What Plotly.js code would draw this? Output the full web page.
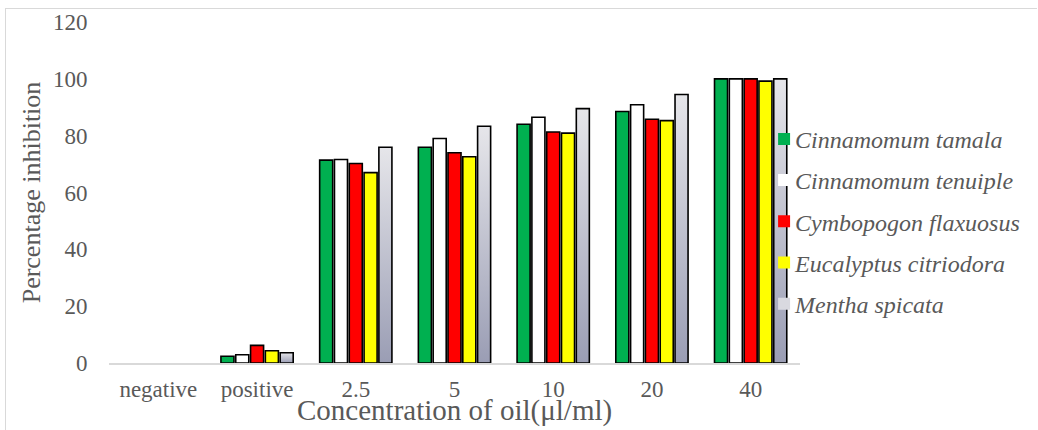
<!DOCTYPE html>
<html>
<head>
<meta charset="utf-8">
<script src="https://cdn.plot.ly/plotly-3.0.1.min.js"></script>
<style>
  html, body { margin: 0; padding: 0; background: #fff; }
  #wrap { position: relative; width: 1038px; height: 430px; }
  #frame { position: absolute; left: 5px; top: 8px; right: 1px; bottom: -2px;
           border-top: 1.5px solid #d9d9d9; border-left: 1.5px solid #d9d9d9; }
  #chart { position: absolute; left: 0; top: 0; width: 1038px; height: 430px; }
</style>
</head>
<body>
<svg width="0" height="0" style="position:absolute">
  <defs>
    <linearGradient id="grayGrad" x1="0" y1="0" x2="0" y2="1">
      <stop offset="0%" stop-color="#e6e6ea"/>
      <stop offset="100%" stop-color="#9a9db4"/>
    </linearGradient>
  </defs>
</svg>
<div id="wrap">
  <div id="frame"></div>
  <div id="chart"></div>
</div>
<script>
const categories = ["negative", "positive", "2.5", "5", "10", "20", "40"];
const seriesNames = ["Cinnamomum tamala", "Cinnamomum tenuiple", "Cymbopogon flaxuosus", "Eucalyptus citriodora", "Mentha spicata"];
const cinnamomumTamala   = [0, 2.4, 71.4, 75.9, 84.0, 88.5, 100];
const cinnamomumTenuiple = [0, 2.9, 71.6, 79.0, 86.5, 90.9, 100];
const cymbopogonFlaxuosus = [0, 6.2, 70.2, 74.0, 81.3, 85.8, 100];
const eucalyptusCitriodora = [0, 4.3, 67.0, 72.6, 80.9, 85.3, 99.2];
const menthaSpicata      = [0, 3.6, 75.9, 83.3, 89.5, 94.5, 100];
const yTicks = [0, 20, 40, 60, 80, 100, 120];
const xTitle = "Concentration of oil(μl/ml)";
const yTitle = "Percentage inhibition";

const seriesValues = [cinnamomumTamala, cinnamomumTenuiple, cymbopogonFlaxuosus, eucalyptusCitriodora, menthaSpicata];
const colors = ["#00b050", "#ffffff", "#ff0000", "#ffff00", "#d9d9e0"];

const traces = seriesNames.map((name, i) => ({
  type: "bar",
  name: name,
  x: categories,
  y: seriesValues[i],
  legendgroup: "g" + i,
  marker: {
    color: colors[i],
    line: { color: "#000000", width: seriesValues[i].map(v => v === 0 ? 0 : 1.6) }
  },
  hoverinfo: "x+y+name"
}));

const font = "Liberation Serif, Times New Roman, serif";
const layout = {
  width: 1038, height: 430,
  margin: { l: 109, r: 238, t: 22, b: 67 },
  paper_bgcolor: "rgba(0,0,0,0)",
  plot_bgcolor: "rgba(0,0,0,0)",
  barmode: "group",
  bargap: 0.25,
  bargroupgap: 0.12,
  font: { family: font, color: "#595959", size: 23 },
  xaxis: {
    type: "category",
    showgrid: false,
    showline: true, linecolor: "#d9d9d9", linewidth: 1.5,
    ticks: "outside", ticklen: 5, tickcolor: "rgba(0,0,0,0)",
    tickfont: { family: font, size: 23, color: "#595959" },
    automargin: false
  },
  yaxis: {
    range: [0, 120],
    tickvals: yTicks,
    ticktext: yTicks.map(String),
    showgrid: false, zeroline: false, showline: false,
    ticks: "outside", ticklen: 16, tickcolor: "rgba(0,0,0,0)",
    tickfont: { family: font, size: 23, color: "#595959" },
    title: { text: yTitle, font: { family: font, size: 26, color: "#595959" }, standoff: 4 },
    automargin: false
  },
  annotations: [{
    text: xTitle,
    xref: "paper", yref: "paper", x: 0.5, y: 0,
    xanchor: "center", yanchor: "middle", yshift: -47,
    showarrow: false,
    font: { family: font, size: 29, color: "#595959" }
  }],
  showlegend: true,
  legend: {
    x: 0.935, xanchor: "left",
    y: 0.722, yanchor: "top",
    bgcolor: "rgba(0,0,0,0)",
    font: { family: font, size: 24, color: "#595959", style: "italic" },
    traceorder: "grouped",
    tracegroupgap: 7
  }
};

Plotly.newPlot("chart", traces, layout, { displayModeBar: false, staticPlot: true }).then(gd => {
  const barTraces = gd.querySelectorAll(".barlayer .trace.bars");
  if (barTraces.length >= 5) {
    barTraces[4].querySelectorAll("path").forEach(p => { p.style.fill = "url(#grayGrad)"; });
  }
  gd.querySelectorAll(".legend .legendpoints").forEach(el => {
    el.setAttribute("transform", "translate(9,0) " + (el.getAttribute("transform") || ""));
  });
});
</script>
</body>
</html>
